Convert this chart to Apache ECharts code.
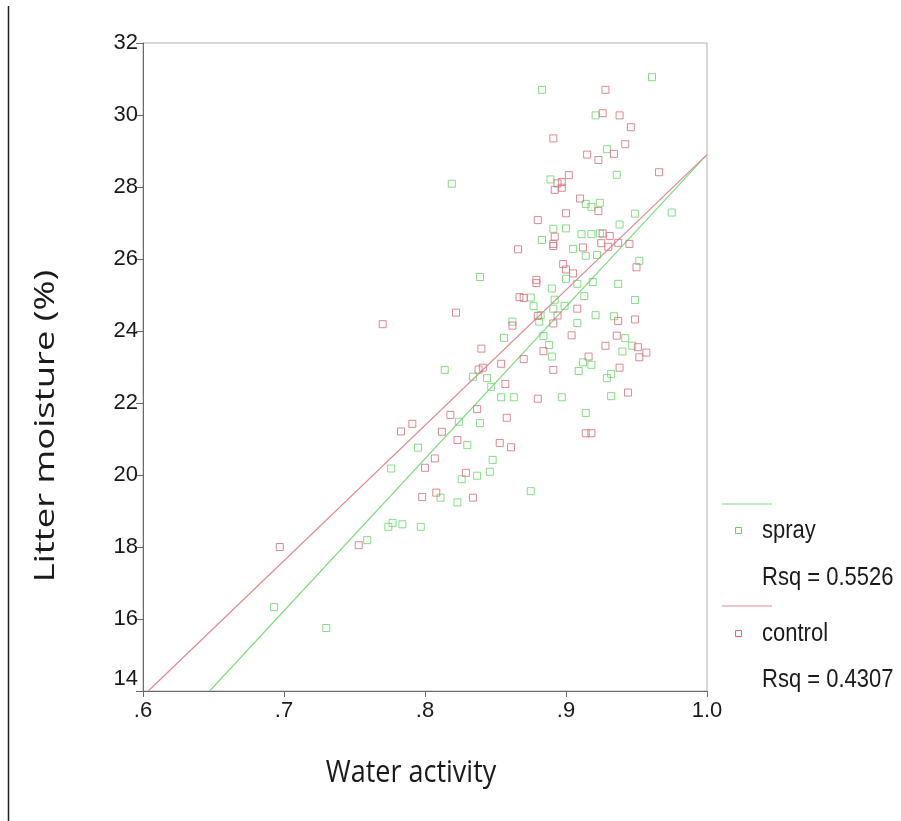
<!DOCTYPE html>
<html>
<head>
<meta charset="utf-8">
<script src="https://cdn.jsdelivr.net/npm/echarts@6/dist/echarts.min.js"></script>
<style>
html,body{margin:0;padding:0;background:#fff;}
#chart{width:901px;height:821px;}
</style>
</head>
<body>
<div id="chart"></div>
<script>
// ---- data ----
const sprayX = [0.961,0.883,0.921,0.929,0.936,0.889,0.819,0.914,0.918,0.924,0.949,0.975,0.938,0.891,0.900,0.911,0.918,0.924,0.883,0.905,0.914,0.922,0.952,0.839,0.900,0.908,0.919,0.937,0.890,0.913,0.875,0.892,0.949,0.877,0.899,0.891,0.921,0.934,0.882,0.862,0.881,0.908,0.856,0.884,0.942,0.888,0.947,0.940,0.890,0.912,0.918,0.814,0.834,0.844,0.847,0.854,0.863,0.897,0.932,0.909,0.929,0.932,0.914,0.824,0.839,0.795,0.830,0.848,0.846,0.837,0.826,0.875,0.811,0.823,0.797,0.776,0.777,0.774,0.784,0.759,0.693,0.730];
const sprayY = [31.05,30.70,29.99,29.05,28.34,28.21,28.09,27.53,27.45,27.56,27.26,27.29,26.96,26.84,26.85,26.69,26.69,26.71,26.53,26.28,26.09,26.11,25.95,25.50,25.45,25.31,25.36,25.31,25.18,24.97,24.93,24.87,24.86,24.69,24.70,24.62,24.44,24.41,24.44,24.26,24.26,24.22,23.81,23.86,23.80,23.61,23.59,23.43,23.29,23.13,23.06,22.92,22.73,22.69,22.45,22.16,22.16,22.16,22.19,22.89,22.69,22.81,21.72,21.48,21.44,20.76,20.83,20.42,20.09,19.98,19.88,19.55,19.37,19.24,18.56,20.18,18.67,18.56,18.63,18.19,16.33,15.75];
const controlX = [0.928,0.926,0.938,0.946,0.891,0.942,0.915,0.923,0.934,0.966,0.902,0.897,0.894,0.897,0.892,0.910,0.923,0.900,0.880,0.926,0.931,0.892,0.891,0.891,0.912,0.925,0.930,0.937,0.945,0.866,0.950,0.898,0.900,0.905,0.879,0.879,0.867,0.870,0.822,0.908,0.894,0.880,0.891,0.937,0.949,0.862,0.904,0.936,0.840,0.928,0.951,0.957,0.952,0.884,0.854,0.870,0.916,0.838,0.841,0.938,0.891,0.857,0.880,0.944,0.837,0.818,0.858,0.812,0.914,0.918,0.823,0.853,0.861,0.807,0.800,0.829,0.808,0.834,0.798,0.791,0.783,0.697,0.753,0.770];
const controlY = [30.70,30.05,29.99,29.66,29.35,29.19,28.90,28.75,28.92,28.41,28.33,28.14,28.10,27.98,27.92,27.68,27.33,27.27,27.08,26.71,26.64,26.62,26.42,26.36,26.32,26.44,26.34,26.45,26.42,26.27,25.77,25.86,25.71,25.60,25.42,25.33,24.94,24.92,24.51,24.62,24.43,24.42,24.21,24.28,24.32,24.15,23.88,23.87,23.51,23.59,23.55,23.40,23.27,23.44,23.09,23.22,23.29,22.93,22.98,22.98,22.92,22.53,22.12,22.29,21.83,21.67,21.59,21.20,21.16,21.16,20.97,20.89,20.77,20.46,20.20,20.06,19.51,19.37,19.39,21.42,21.21,18.00,18.05,24.19];
// fit lines: [intercept, slope]
const sprayFit = [-13.34, 42.24];
const controlFit = [-8.70, 37.60];
const rsqLabels = ['Rsq = 0.5526', 'Rsq = 0.4307'];
const seriesNames = ['spray', 'control'];
const xTicks = [0.6, 0.7, 0.8, 0.9, 1.0];
const xTickLabels = ['.6', '.7', '.8', '.9', '1.0'];
const yTicks = [14, 16, 18, 20, 22, 24, 26, 28, 30, 32];

const X_MIN = 0.6, X_MAX = 1.0, Y_MIN = 14, Y_MAX = 32;
const GREEN = '#66d466', RED = '#d66a78';
const GREEN_LINE = '#7ddc7d', RED_LINE = '#e08890';

function zip(a, b) { return a.map((v, i) => [v, b[i]]); }
function fitLine(f) {
  let x0 = Math.max(X_MIN, (Y_MIN - f[0]) / f[1]);
  return [[x0, f[0] + f[1] * x0], [X_MAX, f[0] + f[1] * X_MAX]];
}

const chart = echarts.init(document.getElementById('chart'), null, {renderer: 'canvas'});
const labelFont = {fontFamily: '"Liberation Sans", Arial, sans-serif', fontSize: 22, color: '#1a1a1a'};
const legendFont = '22px "Liberation Sans", Arial, sans-serif';

const option = {
  backgroundColor: '#fff',
  animation: false,
  grid: {left: 143, top: 43, width: 564, height: 648, show: true, borderColor: '#b0b0b0', borderWidth: 1, backgroundColor: 'transparent'},
  xAxis: {
    type: 'value', min: X_MIN, max: X_MAX, interval: 0.1,
    axisLine: {show: true, onZero: false, lineStyle: {color: '#6a6a6a', width: 1}},
    axisTick: {show: true, length: 6, lineStyle: {color: '#6a6a6a'}},
    splitLine: {show: false},
    axisLabel: Object.assign({margin: 9, formatter: v => {
      const i = xTicks.findIndex(t => Math.abs(t - v) < 1e-6);
      return i >= 0 ? xTickLabels[i] : '';
    }}, labelFont)
  },
  yAxis: {
    type: 'value', min: Y_MIN, max: Y_MAX, interval: 2,
    axisLine: {show: true, onZero: false, lineStyle: {color: '#6a6a6a', width: 1}},
    axisTick: {show: true, length: 7, lineStyle: {color: '#6a6a6a'}},
    splitLine: {show: false},
    axisLabel: Object.assign({margin: 5, formatter: v => {
      if (!yTicks.includes(v)) return '';
      return v === Y_MIN ? '{lo|' + v + '}' : String(v);
    }, rich: {lo: {fontFamily: '"Liberation Sans", Arial, sans-serif', fontSize: 22, color: '#1a1a1a', padding: [0, 0, 24, 0]}}}, labelFont)
  },
  series: [
    {
      name: seriesNames[0], type: 'line', data: fitLine(sprayFit), symbol: 'none',
      lineStyle: {color: GREEN_LINE, width: 1.2}, z: 2, clip: true
    },
    {
      name: seriesNames[1], type: 'line', data: fitLine(controlFit), symbol: 'none',
      lineStyle: {color: RED_LINE, width: 1.2}, z: 2, clip: true
    },
    {
      name: seriesNames[0], type: 'scatter', data: zip(sprayX, sprayY), symbol: 'rect', symbolSize: 7,
      itemStyle: {color: 'rgba(255,255,255,0)', borderColor: GREEN, borderWidth: 1}, z: 3
    },
    {
      name: seriesNames[1], type: 'scatter', data: zip(controlX, controlY), symbol: 'rect', symbolSize: 7,
      itemStyle: {color: 'rgba(255,255,255,0)', borderColor: RED, borderWidth: 1}, z: 3
    }
  ],
  graphic: [
    // left frame line
    {type: 'line', shape: {x1: 8.5, y1: 6, x2: 8.5, y2: 821}, style: {stroke: '#222', lineWidth: 1.5}},
    // axis titles
    {type: 'text', x: 411, y: 773, scaleY: 1.15, style: {text: 'Water activity', font: '27px "Open Sans", sans-serif', fill: '#1a1a1a', textAlign: 'center', textVerticalAlign: 'middle'}},
    {type: 'text', x: 46, y: 426, rotation: Math.PI / 2, scaleX: 1.3, style: {text: 'Litter moisture (%)', font: '28px "Open Sans", sans-serif', fill: '#1a1a1a', textAlign: 'center', textVerticalAlign: 'middle'}},
    // legend
    {type: 'line', shape: {x1: 722, y1: 504, x2: 772, y2: 504}, style: {stroke: GREEN_LINE, lineWidth: 1.2}},
    {type: 'rect', shape: {x: 735.5, y: 527.5, width: 6, height: 6}, style: {fill: 'none', stroke: GREEN, lineWidth: 1}},
    {type: 'text', x: 762, y: 531, scaleY: 1.2, style: {text: seriesNames[0], font: legendFont, fill: '#1a1a1a', textVerticalAlign: 'middle'}},
    {type: 'text', x: 762, y: 578, scaleY: 1.2, style: {text: rsqLabels[0], font: legendFont, fill: '#1a1a1a', textVerticalAlign: 'middle'}},
    {type: 'line', shape: {x1: 722, y1: 606, x2: 772, y2: 606}, style: {stroke: RED_LINE, lineWidth: 1.2}},
    {type: 'rect', shape: {x: 735.5, y: 630.5, width: 6, height: 6}, style: {fill: 'none', stroke: RED, lineWidth: 1}},
    {type: 'text', x: 762, y: 634, scaleY: 1.2, style: {text: seriesNames[1], font: legendFont, fill: '#1a1a1a', textVerticalAlign: 'middle'}},
    {type: 'text', x: 762, y: 680, scaleY: 1.2, style: {text: rsqLabels[1], font: legendFont, fill: '#1a1a1a', textVerticalAlign: 'middle'}}
  ]
};
chart.setOption(option);
</script>
</body>
</html>
